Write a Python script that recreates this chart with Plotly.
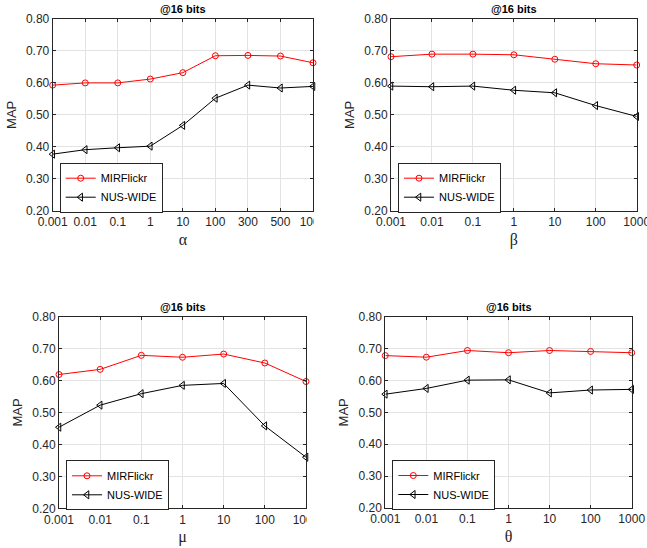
import plotly.graph_objects as go

W, H = 647, 548

# ---------------- data ----------------
alpha_labels = ["0.001", "0.01", "0.1", "1", "10", "100", "300", "500", "1000"]
alpha_mir = [0.593, 0.600, 0.600, 0.612, 0.632, 0.685, 0.686, 0.684, 0.663]
alpha_nus = [0.377, 0.391, 0.397, 0.402, 0.467, 0.552, 0.593, 0.584, 0.589]

beta_labels = ["0.001", "0.01", "0.1", "1", "10", "100", "1000"]
beta_mir = [0.682, 0.690, 0.690, 0.688, 0.674, 0.660, 0.656]
beta_nus = [0.590, 0.588, 0.590, 0.577, 0.569, 0.529, 0.495]

mu_labels = ["0.001", "0.01", "0.1", "1", "10", "100", "1000"]
mu_mir = [0.619, 0.635, 0.679, 0.673, 0.683, 0.655, 0.597]
mu_nus = [0.454, 0.523, 0.559, 0.585, 0.591, 0.458, 0.360]

theta_labels = ["0.001", "0.01", "0.1", "1", "10", "100", "1000"]
theta_mir = [0.678, 0.673, 0.694, 0.687, 0.694, 0.691, 0.687]
theta_nus = [0.557, 0.575, 0.601, 0.602, 0.561, 0.570, 0.572]

y_ticks = [0.20, 0.30, 0.40, 0.50, 0.60, 0.70, 0.80]
title_text = "@16 bits"
series_names = ["MIRFlickr", "NUS-WIDE"]

# ---------------- layout helpers ----------------
panels = [
    (alpha_labels, alpha_mir, alpha_nus, "α", (52.7, 313.0, 19.0, 210.7)),
    (beta_labels, beta_mir, beta_nus, "β", (391.0, 636.7, 19.0, 210.7)),
    (mu_labels, mu_mir, mu_nus, "μ", (59.0, 306.0, 316.7, 508.3)),
    (theta_labels, theta_mir, theta_nus, "θ", (385.3, 631.7, 316.7, 508.0)),
]

fig = go.Figure()
font_main = "Arial, Liberation Sans, Helvetica, sans-serif"
axis_col = "#262626"
grid_col = "#e3e3e3"

for i, (labels, mir, nus, sym, (px0, px1, pyt, pyb)) in enumerate(panels):
    k = "" if i == 0 else str(i + 1)
    xs = list(range(len(labels)))
    leg = "legend" if i == 0 else f"legend{i+1}"
    fig.add_trace(go.Scatter(
        x=xs, y=mir, mode="lines+markers", name=series_names[0],
        line=dict(color="#ff0000", width=1),
        marker=dict(symbol="circle-open", size=6, color="#ff0000", line=dict(width=1)),
        xaxis="x" + k, yaxis="y" + k, legend=leg, cliponaxis=False))
    fig.add_trace(go.Scatter(
        x=xs, y=nus, mode="lines+markers", name=series_names[1],
        line=dict(color="#000000", width=1),
        marker=dict(symbol="triangle-left-open", size=7, color="#000000", line=dict(width=1)),
        xaxis="x" + k, yaxis="y" + k, legend=leg, cliponaxis=False))

    dx = [px0 / W, px1 / W]
    dy = [1 - pyb / H, 1 - pyt / H]
    common = dict(showline=True, mirror="ticks", linecolor=axis_col, linewidth=1,
                  ticks="inside", ticklen=3, tickcolor=axis_col, automargin=False,
                  ticklabeloverflow="allow",
                  showgrid=True, gridcolor=grid_col, gridwidth=1, zeroline=False,
                  tickfont=dict(family=font_main, size=12, color=axis_col))
    fig.layout["xaxis" + k] = dict(
        domain=dx, anchor="y" + k, range=[0, len(labels) - 1],
        tickmode="array", tickvals=xs, ticktext=labels,
        title=dict(text=sym, font=dict(family="Times New Roman, Liberation Serif, serif",
                                       size=16, color=axis_col), standoff=5),
        **common)
    fig.layout["yaxis" + k] = dict(
        domain=dy, anchor="x" + k, range=[0.2, 0.8],
        tickmode="array", tickvals=y_ticks, ticktext=[f"{v:.2f}" for v in y_ticks],
        title=dict(text="MAP", font=dict(family=font_main, size=13, color=axis_col), standoff=6),
        **common)
    fig.add_annotation(text="<b>" + title_text + "</b>", xref="paper", yref="paper",
                       x=(dx[0] + dx[1]) / 2, y=1 - (pyt - 2) / H, xanchor="center", yanchor="bottom",
                       showarrow=False, font=dict(family=font_main, size=11, color="#000000"))
    fig.layout[leg] = dict(
        x=(px0 + 7) / W, y=1 - (pyb - 23) / H, xanchor="left", yanchor="middle",
        bgcolor="white", bordercolor="#262626", borderwidth=1,
        font=dict(family=font_main, size=11, color="#000000"),
        itemwidth=30, tracegroupgap=0, itemclick=False)

# crop clipped last tick labels as in reference (subfigure cropping)
for (px1, pyb) in [(313.0, 210.7), (306.0, 508.3)]:
    fig.add_shape(type="rect", xref="paper", yref="paper",
                  x0=(px1 + 1) / W, x1=(px1 + 22) / W,
                  y0=1 - (pyb + 18) / H, y1=1 - (pyb + 2) / H,
                  fillcolor="white", line=dict(width=0), layer="above")

fig.update_layout(width=W, height=H, margin=dict(l=0, r=0, t=0, b=0),
                  paper_bgcolor="white", plot_bgcolor="white", showlegend=True)

fig.write_html("out.html", config={"displayModeBar": False},
               post_script="document.body.style.margin='0';document.body.style.overflow='hidden';")
